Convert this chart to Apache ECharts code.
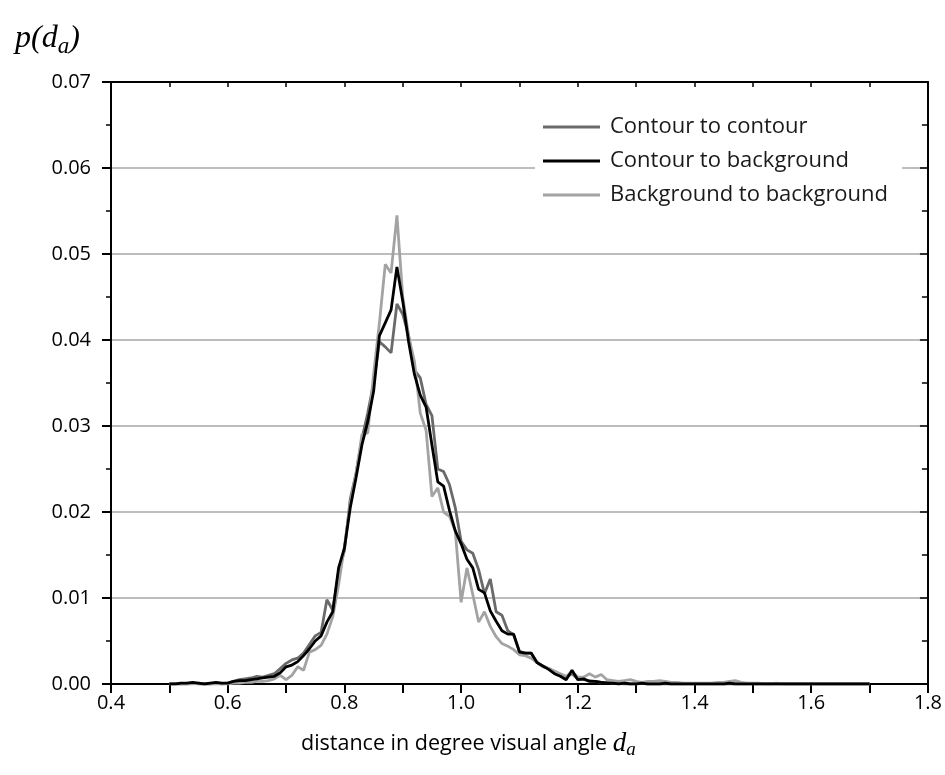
<!DOCTYPE html>
<html>
<head>
<meta charset="utf-8">
<script src="https://cdn.jsdelivr.net/npm/echarts@6/dist/echarts.min.js"></script>
<style>
html,body{margin:0;padding:0;background:#fff;}
#chart{width:945px;height:775px;}
</style>
</head>
<body>
<div id="chart"></div>
<script>
// bin centres (degree visual angle)
var bins = [
0.50,0.51,0.52,0.53,0.54,0.55,0.56,0.57,0.58,0.59,
0.60,0.61,0.62,0.63,0.64,0.65,0.66,0.67,0.68,0.69,
0.70,0.71,0.72,0.73,0.74,0.75,0.76,0.77,0.78,0.79,
0.80,0.81,0.82,0.83,0.84,0.85,0.86,0.87,0.88,0.89,
0.90,0.91,0.92,0.93,0.94,0.95,0.96,0.97,0.98,0.99,
1.00,1.01,1.02,1.03,1.04,1.05,1.06,1.07,1.08,1.09,
1.10,1.11,1.12,1.13,1.14,1.15,1.16,1.17,1.18,1.19,
1.20,1.21,1.22,1.23,1.24,1.25,1.26,1.27,1.28,1.29,
1.30,1.31,1.32,1.33,1.34,1.35,1.36,1.37,1.38,1.39,
1.40,1.41,1.42,1.43,1.44,1.45,1.46,1.47,1.48,1.49,
1.50,1.51,1.52,1.53,1.54,1.55,1.56,1.57,1.58,1.59,
1.60,1.61,1.62,1.63,1.64,1.65,1.66,1.67,1.68,1.69,1.70
];

var contourToContour = [
0,0,0,0,0.0001,0,0,0,0.0001,0,
0.0001,0.0003,0.0005,0.0006,0.0007,0.0009,0.0008,0.0010,0.0012,0.0018,
0.0024,0.0028,0.0030,0.0036,0.0046,0.0056,0.0060,0.0098,0.0086,0.0130,
0.0155,0.0215,0.0245,0.0285,0.0315,0.0350,0.0398,0.0392,0.0385,0.0442,
0.0430,0.0405,0.0365,0.0356,0.0325,0.0312,0.0250,0.0247,0.0232,0.0205,
0.0166,0.0156,0.0152,0.0133,0.0105,0.0122,0.0084,0.0080,0.0062,0.0057,
0.0038,0.0036,0.0036,0.0025,0.0021,0.0018,0.0014,0.0010,0.0008,0.0012,
0.0006,0.0005,0.0004,0.0003,0.0002,0.0002,0.0001,0.0001,0,0,
0,0.0001,0,0,0,0,0,0,0,0,
0,0,0,0,0,0,0,0,0,0,
0,0,0,0,0,0,0,0,0,0,
0,0,0,0,0,0,0,0,0,0,0
];

var contourToBackground = [
0,0,0.0001,0.0001,0.0002,0.0001,0,0.0001,0.0002,0.0001,
0.0001,0.0003,0.0004,0.0004,0.0005,0.0006,0.0007,0.0008,0.0009,0.0013,
0.0020,0.0022,0.0026,0.0033,0.0041,0.0050,0.0056,0.0072,0.0084,0.0135,
0.0158,0.0205,0.0240,0.0278,0.0305,0.0340,0.0405,0.0420,0.0435,0.0485,
0.0445,0.0398,0.0360,0.0336,0.0322,0.0278,0.0235,0.0230,0.0202,0.0178,
0.0163,0.0145,0.0135,0.0110,0.0106,0.0085,0.0073,0.0062,0.0058,0.0058,
0.0037,0.0036,0.0036,0.0025,0.0021,0.0017,0.0012,0.0009,0.0005,0.0016,
0.0005,0.0006,0.0003,0.0003,0.0002,0.0001,0.0001,0,0.0001,0,
0,0.0001,0,0,0,0.0001,0,0,0,0,
0,0,0,0,0,0,0.0001,0,0,0,
0,0,0,0,0,0,0,0,0,0,
0,0,0,0,0,0,0,0,0,0,0
];

var backgroundToBackground = [
0,0,0,0,0,0.0001,0,0,0,0,
0,0.0001,0.0001,0.0002,0.0002,0.0003,0.0003,0.0004,0.0006,0.0010,
0.0005,0.0010,0.0020,0.0016,0.0037,0.0040,0.0045,0.0058,0.0078,0.0115,
0.0160,0.0210,0.0245,0.0290,0.0292,0.0360,0.0420,0.0488,0.0478,0.0545,
0.0450,0.0405,0.0375,0.0315,0.0295,0.0218,0.0228,0.0200,0.0195,0.0178,
0.0095,0.0135,0.0104,0.0072,0.0084,0.0067,0.0055,0.0047,0.0044,0.0040,
0.0034,0.0033,0.0030,0.0025,0.0020,0.0018,0.0015,0.0012,0.0009,0.0014,
0.0008,0.0008,0.0012,0.0008,0.0011,0.0005,0.0004,0.0003,0.0004,0.0005,
0.0003,0.0002,0.0003,0.0003,0.0004,0.0003,0.0002,0.0002,0.0001,0.0001,
0.0001,0.0001,0.0001,0.0001,0.0002,0.0002,0.0003,0.0004,0.0002,0.0001,
0.0001,0.0001,0,0,0.0001,0,0,0,0,0,
0,0,0,0,0,0,0,0,0,0,0
];

var seriesNames = ['Contour to contour', 'Contour to background', 'Background to background'];
var xTickLabels = ['0.4', '0.6', '0.8', '1.0', '1.2', '1.4', '1.6', '1.8'];
var yTickLabels = ['0.00', '0.01', '0.02', '0.03', '0.04', '0.05', '0.06', '0.07'];

function pairs(ys) {
  return bins.map(function (x, i) { return [x, ys[i]]; });
}

var FONT = '"Open Sans", "Noto Sans", sans-serif';
var SERIF = '"Liberation Serif", "DejaVu Serif", serif';
var chart = echarts.init(document.getElementById('chart'), null, {renderer: 'canvas'});

var option = {
  backgroundColor: '#ffffff',
  animation: false,
  title: [
    {
      text: '{i|p}{i|(}{i|d}{s|a}{i|)}',
      left: 10, top: 14,
      textStyle: {
        fontWeight: 'normal',
        rich: {
          i: {fontFamily: SERIF, fontStyle: 'italic', fontWeight: 'normal', fontSize: 32, color: '#000'},
          s: {fontFamily: SERIF, fontStyle: 'italic', fontWeight: 'normal', fontSize: 23, color: '#000', padding: [16, 0, 0, 0]}
        }
      }
    },
    {
      text: '{t|distance in degree visual angle }{i|d}{s|a}',
      left: 296, top: 723,
      textStyle: {
        fontWeight: 'normal',
        rich: {
          t: {fontFamily: FONT, fontWeight: 'normal', fontSize: 21.5, color: '#000'},
          i: {fontFamily: SERIF, fontStyle: 'italic', fontWeight: 'normal', fontSize: 27, color: '#000'},
          s: {fontFamily: SERIF, fontStyle: 'italic', fontWeight: 'normal', fontSize: 19, color: '#000', padding: [12, 0, 0, 0]}
        }
      }
    }
  ],
  legend: {
    data: seriesNames,
    orient: 'vertical',
    left: 535, top: 109,
    padding: [6, 14, 6, 8],
    backgroundColor: '#ffffff',
    icon: 'path://M0,0 L60,0 L60,3 L0,3 Z',
    itemWidth: 57, itemHeight: 3,
    itemGap: 10,
    textStyle: {fontFamily: FONT, fontSize: 22, color: '#1a1a1a', lineHeight: 24, padding: [0, 0, 0, 5]},
    z: 10
  },
  grid: {left: 111, right: 17, top: 82, bottom: 91, containLabel: false},
  xAxis: [
    {
      type: 'value', min: 0.4, max: 1.8, interval: 0.1,
      axisLine: {onZero: false, lineStyle: {color: '#000', width: 2}},
      axisTick: {inside: false, length: 9, lineStyle: {color: '#000', width: 2}},
      axisLabel: {
        fontFamily: FONT, fontSize: 20, color: '#000', margin: 9,
        formatter: function (v) {
          var s = v.toFixed(1);
          return xTickLabels.indexOf(s) >= 0 ? s : '';
        }
      },
      splitLine: {show: false}
    },
    {
      type: 'value', position: 'top', min: 0.4, max: 1.8, interval: 0.1,
      axisLine: {onZero: false, lineStyle: {color: '#000', width: 2}},
      axisTick: {inside: true, length: 5, lineStyle: {color: '#000', width: 1.5}},
      axisLabel: {show: false},
      splitLine: {show: false}
    }
  ],
  yAxis: [
    {
      type: 'value', min: 0, max: 0.07, interval: 0.01,
      axisLine: {show: true, onZero: false, lineStyle: {color: '#000', width: 2}},
      axisTick: {show: true, inside: false, length: 9, lineStyle: {color: '#000', width: 2}},
      minorTick: {show: true, splitNumber: 2, length: 5, lineStyle: {color: '#000', width: 1.5}},
      axisLabel: {
        fontFamily: FONT, fontSize: 20, color: '#000', margin: 20,
        formatter: function (v) {
          var s = v.toFixed(2);
          return yTickLabels.indexOf(s) >= 0 ? s : '';
        }
      },
      splitLine: {show: true, lineStyle: {color: '#bdbdbd', width: 2}}
    },
    {
      type: 'value', position: 'right', min: 0, max: 0.07, interval: 0.01,
      axisLine: {show: true, onZero: false, lineStyle: {color: '#000', width: 2}},
      axisTick: {show: true, inside: true, length: 8, lineStyle: {color: '#000', width: 1.5}},
      minorTick: {show: true, splitNumber: 2, length: 6, lineStyle: {color: '#000', width: 1.5}},
      axisLabel: {show: false},
      splitLine: {show: false}
    }
  ],
  series: [
    {
      name: seriesNames[0], type: 'line', data: pairs(contourToContour),
      showSymbol: false, symbol: 'none', z: 3,
      itemStyle: {color: '#6a6a6a'},
      lineStyle: {color: '#6a6a6a', width: 2.8}
    },
    {
      name: seriesNames[2], type: 'line', data: pairs(backgroundToBackground),
      showSymbol: false, symbol: 'none', z: 4,
      itemStyle: {color: '#a3a3a3'},
      lineStyle: {color: '#a3a3a3', width: 2.8}
    },
    {
      name: seriesNames[1], type: 'line', data: pairs(contourToBackground),
      showSymbol: false, symbol: 'none', z: 5,
      itemStyle: {color: '#000000'},
      lineStyle: {color: '#000000', width: 2.8}
    }
  ]
};
chart.setOption(option);
</script>
</body>
</html>
